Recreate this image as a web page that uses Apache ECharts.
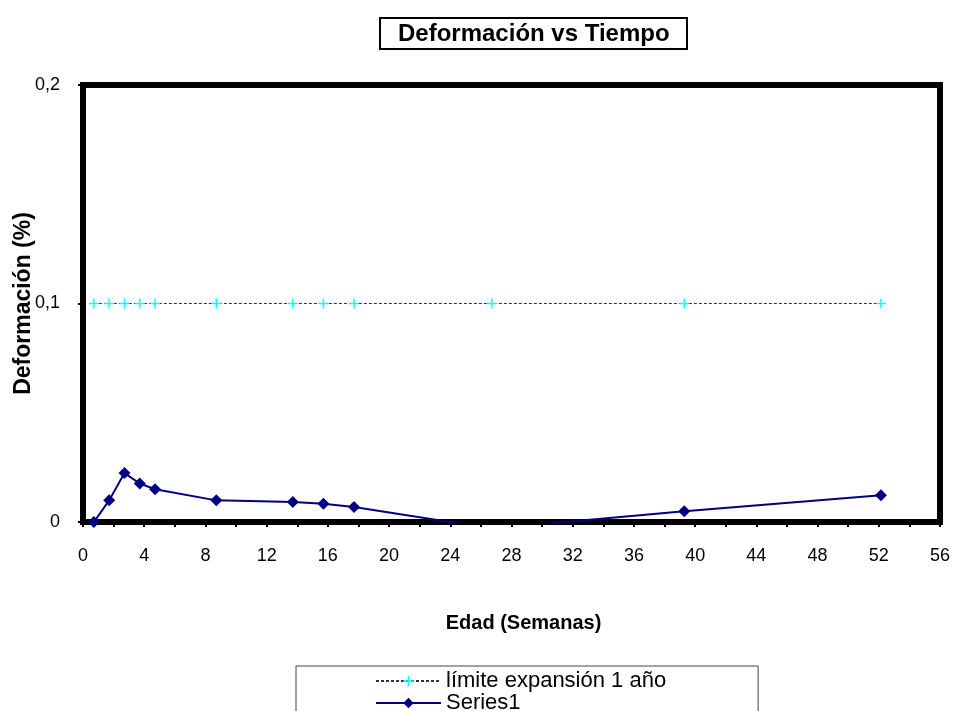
<!DOCTYPE html>
<html>
<head>
<meta charset="utf-8">
<script src="https://cdn.jsdelivr.net/npm/echarts@6/dist/echarts.min.js"></script>
<style>html,body{margin:0;padding:0;background:#fff}#c{width:953px;height:711px}</style>
</head>
<body>
<div id="c"></div>
<script>
// Edad (semanas)
const weeks = [0.71, 1.71, 2.71, 3.71, 4.71, 8.71, 13.71, 15.71, 17.71, 26.71, 39.29, 52.14];
// Deformación (%)
const series1 = [0, 0.0099, 0.0224, 0.0176, 0.015, 0.0099, 0.0092, 0.0084, 0.0069, -0.003, 0.0049, 0.0122];
// Límite expansión 1 año
const limit = [0.1, 0.1, 0.1, 0.1, 0.1, 0.1, 0.1, 0.1, 0.1, 0.1, 0.1, 0.1];
const seriesNames = ['límite expansión 1 año', 'Series1'];
const titleText = 'Deformación vs Tiempo';
const xName = 'Edad (Semanas)';
const yName = 'Deformación (%)';

const FONT = '"Liberation Sans", Arial, sans-serif';
const chart = echarts.init(document.getElementById('c'), null, {renderer: 'canvas'});
const pair = (xs, ys) => xs.map((x, i) => [x, ys[i]]);

chart.setOption({
  animation: false,
  backgroundColor: '#fff',
  textStyle: {fontFamily: FONT, color: '#000'},
  title: {
    text: titleText,
    left: 380, top: 18,
    padding: [4, 18, 3, 18],
    borderColor: '#000', borderWidth: 2,
    textStyle: {fontFamily: FONT, fontSize: 24, fontWeight: 'bold', color: '#000'}
  },
  grid: {
    left: 83, right: 13, top: 85, bottom: 189,
    containLabel: false, outerBoundsMode: 'none',
    show: true, borderColor: '#000', borderWidth: 6, backgroundColor: '#fff'
  },
  legend: {
    orient: 'vertical',
    left: 296, top: 666, height: 120,
    padding: [4, 92, 40, 79],
    borderColor: '#444', borderWidth: 1,
    itemWidth: 65, itemHeight: 13, itemGap: 0,
    textStyle: {fontFamily: FONT, fontSize: 22, lineHeight: 20, color: '#000'},
    data: seriesNames
  },
  xAxis: {
    type: 'value', min: 0, max: 56, interval: 4,
    name: xName, nameLocation: 'middle', nameGap: 91, nameMoveOverlap: false,
    nameTextStyle: {fontFamily: FONT, fontSize: 20, fontWeight: 'bold', color: '#000', padding: [0, 0, 0, 24]},
    axisLine: {show: true, onZero: false, lineStyle: {color: '#000', width: 6}},
    axisTick: {show: true, inside: false, length: 5, lineStyle: {color: '#000', width: 2}},
    minorTick: {show: true, splitNumber: 2, length: 5, lineStyle: {color: '#000', width: 2}},
    axisLabel: {fontFamily: FONT, fontSize: 18, color: '#000', margin: 25},
    splitLine: {show: false}
  },
  yAxis: {
    type: 'value', min: 0, max: 0.2, interval: 0.1,
    name: yName, nameLocation: 'middle', nameGap: 48, nameRotate: 90, nameMoveOverlap: false,
    nameTextStyle: {fontFamily: FONT, fontSize: 23, fontWeight: 'bold', color: '#000'},
    axisLine: {show: true, onZero: false, lineStyle: {color: '#000', width: 6}},
    axisTick: {show: true, inside: false, length: 5, lineStyle: {color: '#000', width: 2}},
    axisLabel: {fontFamily: FONT, fontSize: 18, color: '#000', margin: 23,
      formatter: v => v === 0 ? '0' : String(Math.round(v * 10) / 10).replace('.', ',')},
    splitLine: {show: false}
  },
  series: [
    {
      name: seriesNames[0], type: 'line', data: pair(weeks, limit),
      symbol: 'path://M4.3,0H5.7V4.3H10V5.7H5.7V10H4.3V5.7H0V4.3H4.3Z',
      symbolSize: 10,
      itemStyle: {color: '#00FFFF'},
      lineStyle: {color: '#333', width: 1, type: [3, 2]},
      z: 2
    },
    {
      name: seriesNames[1], type: 'line', data: pair(weeks, series1),
      symbol: 'diamond', symbolSize: 12,
      itemStyle: {color: '#000080'},
      lineStyle: {color: '#000080', width: 2},
      clip: true,
      z: 3
    }
  ]
});
</script>
</body>
</html>
